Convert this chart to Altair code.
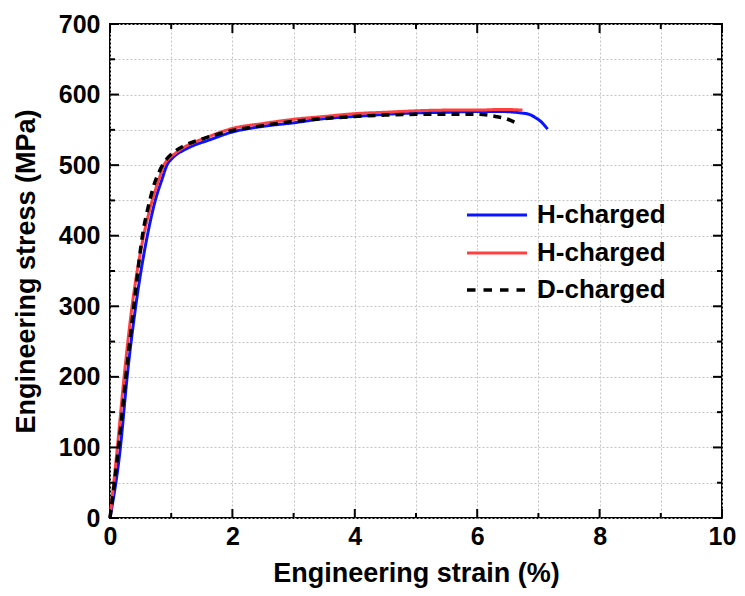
import altair as alt
import pandas as pd

# ---- data ----
series_names = ["H-charged 1", "H-charged 2", "D-charged"]
legend_labels = ["H-charged", "H-charged", "D-charged"]

h1_strain = [0, 0.17, 0.28, 0.42, 0.61, 0.74, 0.85, 0.93, 1.02, 1.10, 1.20, 1.34, 1.60, 2.0, 2.5, 3.0,
             3.5, 4.0, 4.5, 5.0, 5.5, 6.0, 6.4, 6.71, 6.85, 6.94, 7.05, 7.15]
h1_stress = [0, 100, 200, 300, 400, 450, 480, 500, 510, 516, 521, 527, 535, 547, 555, 560,
             566, 569, 572, 574, 575, 576, 576, 574, 572, 568, 561, 551]

h2_strain = [0, 0.12, 0.23, 0.36, 0.55, 0.69, 0.80, 0.88, 0.97, 1.07, 1.20, 1.34, 1.60, 2.0, 2.5, 3.0,
             3.5, 4.0, 4.5, 5.0, 5.5, 6.0, 6.4, 6.74]
h2_stress = [0, 100, 200, 300, 400, 450, 480, 500, 510, 517, 525, 531, 540, 552, 559, 565,
             569, 573, 575, 577, 578, 578, 579, 578]

d_strain = [0, 0.14, 0.26, 0.39, 0.53, 0.65, 0.73, 0.80, 0.88, 0.96, 1.05, 1.20, 1.50, 2.0, 2.5, 3.0,
            3.5, 4.0, 4.5, 5.0, 5.5, 6.0, 6.3, 6.5, 6.63]
d_stress = [0, 100, 200, 300, 400, 450, 475, 490, 503, 512, 519, 527, 537, 549, 556, 562,
            566, 569, 571, 572, 572, 572, 569, 565, 560]

x_grid = [0, 1, 2, 3, 4, 5, 6, 7, 8, 9, 10]
y_grid = [0, 50, 100, 150, 200, 250, 300, 350, 400, 450, 500, 550, 600, 650, 700]
x_major = [0, 2, 4, 6, 8, 10]
x_minor = [1, 3, 5, 7, 9]
y_major = [0, 100, 200, 300, 400, 500, 600, 700]
y_minor = [50, 150, 250, 350, 450, 550, 650]

rows = []
for name, xs, ys in zip(series_names, [h1_strain, h2_strain, d_strain], [h1_stress, h2_stress, d_stress]):
    for i, (x, y) in enumerate(zip(xs, ys)):
        rows.append({"series": name, "strain": x, "stress": y, "order": i})
df = pd.DataFrame(rows)

W, H = 612, 494
FONT = "Liberation Sans"
COLORS = ["#0a14ff", "#ff4040", "#000000"]
DASHES = [[1, 0], [1, 0], [8, 6]]
WIDTHS = [3, 3, 3.5]

xscale = alt.Scale(domain=[0, 10], nice=False, zero=False)
yscale = alt.Scale(domain=[0, 700], nice=False, zero=False)

x_axis = alt.Axis(values=x_grid, labelExpr="datum.value % 2 == 0 ? datum.label : ''",
                  title="Engineering strain (%)", grid=True, ticks=False, tickSize=0, domain=False,
                  labelFlush=False, labelPadding=6, titlePadding=11)
y_axis = alt.Axis(values=y_grid, labelExpr="datum.value % 100 == 0 ? datum.label : ''",
                  title="Engineering stress (MPa)", grid=True, ticks=False, tickSize=0, domain=False,
                  labelFlush=False, labelPadding=10, titlePadding=18)

X = lambda: alt.X("strain:Q", scale=xscale, axis=x_axis)
Y = lambda: alt.Y("stress:Q", scale=yscale, axis=y_axis)

layers = []
for name, c, dsh, w in zip(series_names, COLORS, DASHES, WIDTHS):
    layers.append(alt.Chart(df).transform_filter(alt.datum.series == name).mark_line(
        strokeWidth=w, interpolate="monotone", color=c, strokeDash=dsh).encode(
        x=X(), y=Y(), order="order:Q"))

# legend (drawn manually so the row spacing matches)
leg_x0, leg_x1, leg_tx = 357, 417, 427
leg_rows = [191, 229, 266]
legend_layers = []
for lab, c, dsh, w, ry in zip(legend_labels, COLORS, [[1, 0], [1, 0], [8.5, 8]], [3, 3, 3.5], leg_rows):
    legend_layers.append(alt.Chart(pd.DataFrame({"label": [lab]})).mark_rule(
        color=c, strokeWidth=w, strokeDash=dsh).encode(
        x=alt.value(leg_x0), x2=alt.value(leg_x1), y=alt.value(ry)))
    legend_layers.append(alt.Chart(pd.DataFrame({"label": [lab]})).mark_text(
        align="left", baseline="alphabetic", font=FONT, fontWeight="bold", fontSize=26,
        color="black").encode(x=alt.value(leg_tx), y=alt.value(ry + 8), text="label:N"))

def xticks(vals, length):
    d = pd.DataFrame({"strain": vals})
    bottom = alt.Chart(d).mark_rule(color="black", strokeWidth=2).encode(
        x=X(), y=alt.value(H), y2=alt.value(H - length))
    top = alt.Chart(d).mark_rule(color="black", strokeWidth=2).encode(
        x=X(), y=alt.value(0), y2=alt.value(length))
    return [bottom, top]

def yticks(vals, length):
    d = pd.DataFrame({"stress": vals})
    left = alt.Chart(d).mark_rule(color="black", strokeWidth=2).encode(
        y=Y(), x=alt.value(0), x2=alt.value(length))
    right = alt.Chart(d).mark_rule(color="black", strokeWidth=2).encode(
        y=Y(), x=alt.value(W), x2=alt.value(W - length))
    return [left, right]

tick_layers = xticks(x_major, 9) + xticks(x_minor, 5) + yticks(y_major, 9) + yticks(y_minor, 5)

chart = alt.layer(*layers, *tick_layers, *legend_layers).properties(
    width=W, height=H,
    autosize=alt.AutoSizeParams(type="none"),
    padding={"left": 102, "top": 16, "right": 15, "bottom": 70},
    background="white",
).configure_axis(
    labelFont=FONT, labelFontWeight="bold", labelFontSize=25, labelColor="black",
    titleFont=FONT, titleFontWeight="bold", titleFontSize=27, titleColor="black",
    gridColor="#c4c4c4", gridDash=[2, 2], gridWidth=1,
).configure_view(stroke="black", strokeWidth=2)

chart.save("out.html", embed_options={"renderer": "svg", "actions": False})
